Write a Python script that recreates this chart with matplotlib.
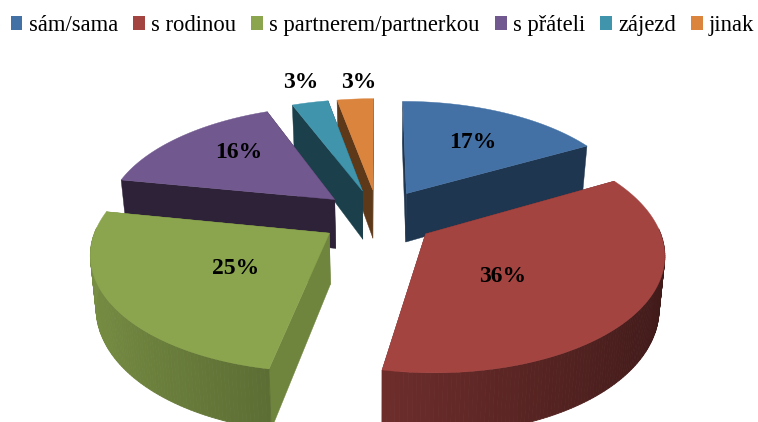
import numpy as np
import matplotlib
matplotlib.use('Agg')
import matplotlib.pyplot as plt
from matplotlib.patches import Polygon, Patch
from matplotlib.colors import to_rgb

plt.rcParams['font.family'] = ['Liberation Serif', 'DejaVu Serif']

categories = ['sám/sama', 's rodinou', 's partnerem/partnerkou', 's přáteli', 'zájezd', 'jinak']
values = [17, 36, 25, 16, 3, 3]
labels = ['17%', '36%', '25%', '16%', '3%', '3%']
colors = ['#4371A6', '#A44441', '#8BA54E', '#71588F', '#4095AD', '#DB843D']
wall_colors = ['#1F3650', '#632826', '#6F853D', '#2E2238', '#1B3F4B', '#5E3919']

# fake 3d pie, screen in pixels so it lines up with the picture
cx, cy = 378, 217
R, Rc = 230, 112.5
k = 0.15
explode = 0.25
label_xy = [(473, 142), (503, 276), (236, 269), (239, 152), (301, 83), (359, 83)]


def project(x, y):
    s = 1 + k * y
    return cx + R * x / s, cy - Rc * y / s


def drop(p):
    # top face point -> same point on the bottom face
    return (p[0] - (p[0] - cx) * 0.02, p[1] + 50 + 0.07 * (p[1] - 215))


fig = plt.figure(figsize=(7.58, 4.22), dpi=100)
ax = fig.add_axes([0, 0, 1, 1])
ax.set_xlim(0, 758)
ax.set_ylim(422, 0)
ax.axis('off')

edges = np.cumsum([0] + values) / sum(values) * 2 * np.pi
draw_order = [5, 4, 3, 0, 2, 1]

for n, i in enumerate(draw_order):
    a0, a1 = edges[i], edges[i + 1]
    mid = (a0 + a1) / 2
    ox, oy = explode * np.sin(mid), explode * np.cos(mid)
    apex = project(ox, oy)
    angles = np.linspace(a0, a1, max(int(values[i] * 4), 8))
    rim = [project(ox + np.sin(a), oy + np.cos(a)) for a in angles]
    base = np.array(to_rgb(colors[i]))

    # the two flat walls
    for p in (rim[0], rim[-1]):
        wall = [apex, p, drop(p), drop(apex)]
        ax.add_patch(Polygon(wall, closed=True, fc=wall_colors[i], ec=wall_colors[i], lw=0.3, zorder=n * 3 + 1))

    # outer rim, only the part facing us, darker to the right
    for j in range(len(rim) - 1):
        am = (angles[j] + angles[j + 1]) / 2
        if np.cos(am) > 0.05:
            continue
        c = base * (0.62 - 0.24 * np.sin(am))
        quad = [rim[j], rim[j + 1], drop(rim[j + 1]), drop(rim[j])]
        ax.add_patch(Polygon(quad, closed=True, fc=c, ec=c, lw=0.6, zorder=n * 3 + 2))

    ax.add_patch(Polygon([apex] + rim, closed=True, fc=colors[i], ec=colors[i], lw=0.3, zorder=n * 3 + 3))

for i in range(len(values)):
    ax.text(label_xy[i][0], label_xy[i][1], labels[i], fontsize=17, fontweight='bold', color='black',
            ha='center', va='center', zorder=30)

handles = [Patch(facecolor=colors[i], edgecolor='none', label=categories[i]) for i in range(len(values))]
ax.legend(handles=handles, ncol=6, loc='upper left', bbox_to_anchor=(10.5 / 758, 1 - 15 / 422), frameon=False,
          fontsize=16.3, handlelength=0.53, handleheight=0.53, handletextpad=0.27, columnspacing=0.66,
          borderpad=0, borderaxespad=0, labelspacing=0)

fig.savefig('out.png', dpi=100)
